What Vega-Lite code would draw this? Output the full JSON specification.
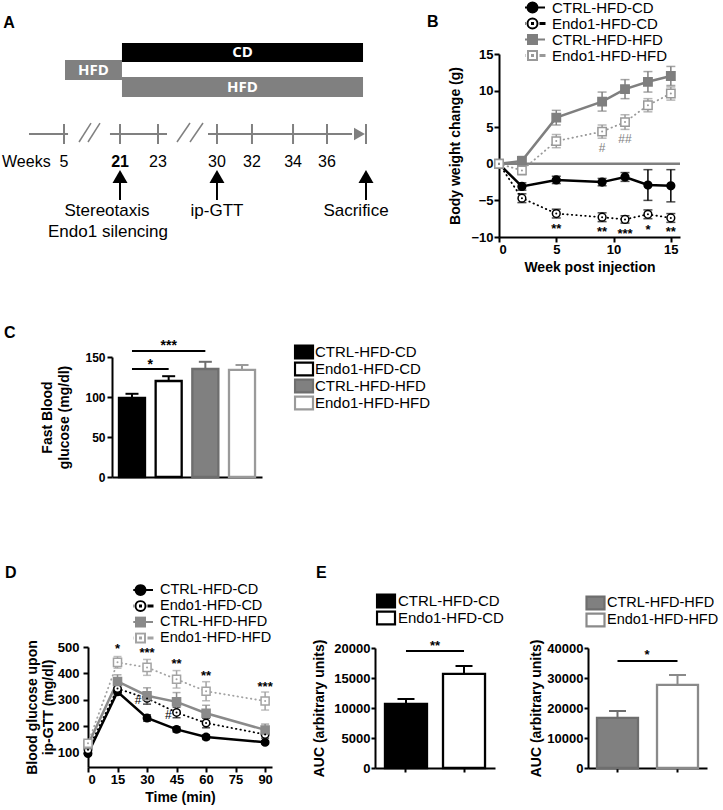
{
"$schema": "https://vega.github.io/schema/vega-lite/v6.json",
"background": "white",
"width": 723,
"height": 810,
"autosize": "none",
"padding": 0,
"config": {
  "view": {"stroke": null},
  "font": "Liberation Sans",
  "axis": {"domainColor": "black", "domainWidth": 2, "tickColor": "black", "tickWidth": 2, "tickSize": 5, "labelColor": "black", "labelFont": "Liberation Sans", "labelFontWeight": "bold", "labelFontSize": 13, "titleFont": "Liberation Sans", "titleFontWeight": "bold", "titleFontSize": 14, "titleColor": "black", "grid": false, "labelPadding": 2},
  "legend": {"labelFont": "Liberation Sans", "labelFontSize": 15, "labelColor": "black", "labelLimit": 300, "rowPadding": 0}
},
"resolve": {
  "scale": {"x": "independent", "y": "independent", "color": "independent", "fill": "independent", "stroke": "independent", "shape": "independent"},
  "axis": {"x": "independent", "y": "independent"},
  "legend": {"color": "independent", "fill": "independent", "stroke": "independent", "shape": "independent"}
},
"datasets": {
  "diet": [
    {"diet": "HFD", "x0": 8.99, "x1": 16.87, "y0": 7.41, "y1": 9.88, "cx": 12.93, "cy": 8.64},
    {"diet": "CD", "x0": 16.87, "x1": 50.21, "y0": 5.31, "y1": 7.65, "cx": 33.54, "cy": 6.48},
    {"diet": "HFD", "x0": 16.87, "x1": 50.21, "y0": 9.51, "y1": 11.98, "cx": 33.54, "cy": 10.74}
  ],
  "tl": [
    {"x0": 4.01, "x1": 9.41, "y0": 16.54, "y1": 16.54},
    {"x0": 15.21, "x1": 23.1, "y0": 16.54, "y1": 16.54},
    {"x0": 28.77, "x1": 48.69, "y0": 16.54, "y1": 16.54},
    {"x0": 8.85, "x1": 8.85, "y0": 15.31, "y1": 17.78},
    {"x0": 16.6, "x1": 16.6, "y0": 15.31, "y1": 17.78},
    {"x0": 21.85, "x1": 21.85, "y0": 15.31, "y1": 17.78},
    {"x0": 30.01, "x1": 30.01, "y0": 15.31, "y1": 17.78},
    {"x0": 34.85, "x1": 34.85, "y0": 15.31, "y1": 17.78},
    {"x0": 40.53, "x1": 40.53, "y0": 15.31, "y1": 17.78},
    {"x0": 45.23, "x1": 45.23, "y0": 15.31, "y1": 17.78},
    {"x0": 50.62, "x1": 50.62, "y0": 15.31, "y1": 17.78}
  ],
  "sl": [
    {"x0": 10.93, "x1": 12.59, "y0": 17.53, "y1": 15.19},
    {"x0": 12.17, "x1": 13.83, "y0": 17.53, "y1": 15.19},
    {"x0": 24.48, "x1": 26.28, "y0": 17.53, "y1": 15.19},
    {"x0": 26.28, "x1": 28.08, "y0": 17.53, "y1": 15.19}
  ],
  "head": [{"x": 49.72, "y": 16.54}],
  "wk": [
    {"t": "Weeks", "x": 0.28, "y": 20.0, "role": "head"},
    {"t": "5", "x": 8.85, "y": 20.0, "role": "n"},
    {"t": "21", "x": 16.6, "y": 20.0, "role": "bold"},
    {"t": "23", "x": 21.85, "y": 20.0, "role": "n"},
    {"t": "30", "x": 30.01, "y": 20.0, "role": "n"},
    {"t": "32", "x": 34.85, "y": 20.0, "role": "n"},
    {"t": "34", "x": 40.53, "y": 20.0, "role": "n"},
    {"t": "36", "x": 45.23, "y": 20.0, "role": "n"}
  ],
  "ev": [
    {"x": 16.6, "ya": 21.79, "y0": 22.59, "y1": 24.69},
    {"x": 30.01, "ya": 21.79, "y0": 22.59, "y1": 24.69},
    {"x": 50.62, "ya": 21.79, "y0": 22.59, "y1": 24.69}
  ],
  "evl": [
    {"x": 14.8, "y": 26.05, "t": "Stereotaxis"},
    {"x": 14.94, "y": 28.6, "t": "Endo1 silencing"},
    {"x": 30.01, "y": 26.05, "t": "ip-GTT"},
    {"x": 49.24, "y": 26.05, "t": "Sacrifice"}
  ],
  "lett": [
    {"x": 0.46, "y": 2.9, "t": "A"},
    {"x": 59.06, "y": 2.72, "t": "B"},
    {"x": 0.55, "y": 41.11, "t": "C"},
    {"x": 0.69, "y": 70.74, "t": "D"},
    {"x": 43.71, "y": 70.74, "t": "E"}
  ],
  "bw": [
    {"series": "CTRL-HFD-CD", "week": 0, "mean": 0, "err": 0},
    {"series": "CTRL-HFD-CD", "week": 2, "mean": -3.1, "err": 0.5},
    {"series": "CTRL-HFD-CD", "week": 5, "mean": -2.2, "err": 0.5},
    {"series": "CTRL-HFD-CD", "week": 9, "mean": -2.5, "err": 0.5},
    {"series": "CTRL-HFD-CD", "week": 11, "mean": -1.8, "err": 0.6},
    {"series": "CTRL-HFD-CD", "week": 13, "mean": -2.9, "err": 2.1},
    {"series": "CTRL-HFD-CD", "week": 15, "mean": -3.0, "err": 2.2},
    {"series": "Endo1-HFD-CD", "week": 0, "mean": 0, "err": 0},
    {"series": "Endo1-HFD-CD", "week": 2, "mean": -4.7, "err": 0.6},
    {"series": "Endo1-HFD-CD", "week": 5, "mean": -6.8, "err": 0.6},
    {"series": "Endo1-HFD-CD", "week": 9, "mean": -7.3, "err": 0.6},
    {"series": "Endo1-HFD-CD", "week": 11, "mean": -7.6, "err": 0.5},
    {"series": "Endo1-HFD-CD", "week": 13, "mean": -6.9, "err": 0.6},
    {"series": "Endo1-HFD-CD", "week": 15, "mean": -7.4, "err": 0.6},
    {"series": "CTRL-HFD-HFD", "week": 0, "mean": 0, "err": 0},
    {"series": "CTRL-HFD-HFD", "week": 2, "mean": 0.4, "err": 0.6},
    {"series": "CTRL-HFD-HFD", "week": 5, "mean": 6.3, "err": 1.0},
    {"series": "CTRL-HFD-HFD", "week": 9, "mean": 8.5, "err": 1.3},
    {"series": "CTRL-HFD-HFD", "week": 11, "mean": 10.2, "err": 1.3},
    {"series": "CTRL-HFD-HFD", "week": 13, "mean": 11.2, "err": 1.4},
    {"series": "CTRL-HFD-HFD", "week": 15, "mean": 12.0, "err": 1.3},
    {"series": "Endo1-HFD-HFD", "week": 0, "mean": 0, "err": 0},
    {"series": "Endo1-HFD-HFD", "week": 2, "mean": -0.9, "err": 0.6},
    {"series": "Endo1-HFD-HFD", "week": 5, "mean": 3.1, "err": 0.9},
    {"series": "Endo1-HFD-HFD", "week": 9, "mean": 4.4, "err": 0.9},
    {"series": "Endo1-HFD-HFD", "week": 11, "mean": 5.7, "err": 1.0},
    {"series": "Endo1-HFD-HFD", "week": 13, "mean": 8.0, "err": 0.9},
    {"series": "Endo1-HFD-HFD", "week": 15, "mean": 9.6, "err": 0.9}
  ],
  "bwzero": [{"week": 0, "week2": 15.8, "mean": 0}],
  "bwsig": [
    {"week": 5, "mean": -8.5, "label": "**", "kind": "star"},
    {"week": 9, "mean": -8.9, "label": "**", "kind": "star"},
    {"week": 11, "mean": -9.2, "label": "***", "kind": "star"},
    {"week": 13, "mean": -8.6, "label": "*", "kind": "star"},
    {"week": 15, "mean": -8.9, "label": "**", "kind": "star"},
    {"week": 9, "mean": 2.2, "label": "#", "kind": "hash"},
    {"week": 11, "mean": 3.4, "label": "##", "kind": "hash"}
  ],
  "fbg": [
    {"series": "CTRL-HFD-CD", "mean": 99, "hi": 104},
    {"series": "Endo1-HFD-CD", "mean": 120, "hi": 126},
    {"series": "CTRL-HFD-HFD", "mean": 135, "hi": 144},
    {"series": "Endo1-HFD-HFD", "mean": 134, "hi": 140}
  ],
  "fbgsig": [
    {"a": "CTRL-HFD-CD", "b": "Endo1-HFD-CD", "mid": "Endo1-HFD-CD", "line": 135, "ty": 143.75, "label": "*", "kind": "near"},
    {"a": "CTRL-HFD-CD", "b": "CTRL-HFD-HFD", "mid": "Endo1-HFD-CD", "line": 157.5, "ty": 167.5, "label": "***", "kind": "far"}
  ],
  "gtt": [
    {"series": "CTRL-HFD-CD", "t": 0, "mean": 98, "err": 6},
    {"series": "CTRL-HFD-CD", "t": 15, "mean": 331, "err": 12},
    {"series": "CTRL-HFD-CD", "t": 30, "mean": 232, "err": 12},
    {"series": "CTRL-HFD-CD", "t": 45, "mean": 189, "err": 10},
    {"series": "CTRL-HFD-CD", "t": 60, "mean": 160, "err": 9},
    {"series": "CTRL-HFD-CD", "t": 90, "mean": 140, "err": 6},
    {"series": "Endo1-HFD-CD", "t": 0, "mean": 112, "err": 8},
    {"series": "Endo1-HFD-CD", "t": 15, "mean": 343, "err": 15},
    {"series": "Endo1-HFD-CD", "t": 30, "mean": 306, "err": 22},
    {"series": "Endo1-HFD-CD", "t": 45, "mean": 253, "err": 20},
    {"series": "Endo1-HFD-CD", "t": 60, "mean": 213, "err": 18},
    {"series": "Endo1-HFD-CD", "t": 90, "mean": 170, "err": 14},
    {"series": "CTRL-HFD-HFD", "t": 0, "mean": 131, "err": 8},
    {"series": "CTRL-HFD-HFD", "t": 15, "mean": 370, "err": 25},
    {"series": "CTRL-HFD-HFD", "t": 30, "mean": 316, "err": 30},
    {"series": "CTRL-HFD-HFD", "t": 45, "mean": 293, "err": 35},
    {"series": "CTRL-HFD-HFD", "t": 60, "mean": 250, "err": 30},
    {"series": "CTRL-HFD-HFD", "t": 90, "mean": 187, "err": 22},
    {"series": "Endo1-HFD-HFD", "t": 0, "mean": 137, "err": 8},
    {"series": "Endo1-HFD-HFD", "t": 15, "mean": 442, "err": 22},
    {"series": "Endo1-HFD-HFD", "t": 30, "mean": 423, "err": 30},
    {"series": "Endo1-HFD-HFD", "t": 45, "mean": 378, "err": 33},
    {"series": "Endo1-HFD-HFD", "t": 60, "mean": 333, "err": 36},
    {"series": "Endo1-HFD-HFD", "t": 90, "mean": 296, "err": 34}
  ],
  "gttsig": [
    {"t": 15, "mean": 502, "label": "*", "kind": "star"},
    {"t": 30, "mean": 490, "label": "***", "kind": "star"},
    {"t": 45, "mean": 446, "label": "**", "kind": "star"},
    {"t": 60, "mean": 400, "label": "**", "kind": "star"},
    {"t": 90, "mean": 360, "label": "***", "kind": "star"},
    {"t": 25.4, "mean": 300, "label": "#", "kind": "hash"},
    {"t": 40.8, "mean": 244, "label": "#", "kind": "hash"}
  ],
  "auc1": [
    {"series": "CTRL-HFD-CD", "mean": 10700, "hi": 11500},
    {"series": "Endo1-HFD-CD", "mean": 15700, "hi": 17000}
  ],
  "auc1sig": [{"a": "CTRL-HFD-CD", "b": "Endo1-HFD-CD", "line": 19500, "ty": 20833, "label": "**"}],
  "auc2": [
    {"series": "CTRL-HFD-HFD", "mean": 16700, "hi": 19000},
    {"series": "Endo1-HFD-HFD", "mean": 27700, "hi": 31000}
  ],
  "auc2sig": [{"a": "CTRL-HFD-HFD", "b": "Endo1-HFD-HFD", "line": 35667, "ty": 38667, "label": "*"}]
},
"layer": [
{
  "layer": [
    {"data": {"name": "diet"}, "mark": {"type": "rect"}, "encoding": {
      "x": {"field": "x0", "type": "quantitative", "scale": {"domain": [0, 100], "range": [0, 723], "nice": false, "zero": false}, "axis": null},
      "x2": {"field": "x1"},
      "y": {"field": "y0", "type": "quantitative", "scale": {"domain": [0, 100], "range": [0, 810], "nice": false, "zero": false}, "axis": null},
      "y2": {"field": "y1"},
      "fill": {"field": "diet", "type": "nominal", "scale": {"domain": ["CD", "HFD"], "range": ["black", "#808080"]}, "legend": null}}},
    {"data": {"name": "diet"}, "mark": {"type": "text", "color": "white", "font": "Open Sans", "fontWeight": "bold", "fontSize": 15, "baseline": "middle"}, "encoding": {
      "x": {"field": "cx", "type": "quantitative", "axis": null},
      "y": {"field": "cy", "type": "quantitative", "axis": null},
      "text": {"field": "diet"}}},
    {"data": {"name": "tl"}, "mark": {"type": "rule", "color": "#808080", "strokeWidth": 2}, "encoding": {
      "x": {"field": "x0", "type": "quantitative", "axis": null}, "x2": {"field": "x1"},
      "y": {"field": "y0", "type": "quantitative", "axis": null}, "y2": {"field": "y1"}}},
    {"data": {"name": "sl"}, "mark": {"type": "rule", "color": "#808080", "strokeWidth": 1.5}, "encoding": {
      "x": {"field": "x0", "type": "quantitative", "axis": null}, "x2": {"field": "x1"},
      "y": {"field": "y0", "type": "quantitative", "axis": null}, "y2": {"field": "y1"}}},
    {"data": {"name": "head"}, "mark": {"type": "point", "shape": "triangle-right", "filled": true, "color": "#808080", "size": 160, "opacity": 1}, "encoding": {
      "x": {"field": "x", "type": "quantitative", "axis": null},
      "y": {"field": "y", "type": "quantitative", "axis": null}}},
    {"data": {"name": "wk"}, "transform": [{"filter": "datum.role==='head'"}], "mark": {"type": "text", "align": "left", "baseline": "middle", "fontSize": 16, "font": "Liberation Sans"}, "encoding": {
      "x": {"field": "x", "type": "quantitative", "axis": null},
      "y": {"field": "y", "type": "quantitative", "axis": null}, "text": {"field": "t"}}},
    {"data": {"name": "wk"}, "transform": [{"filter": "datum.role==='n'"}], "mark": {"type": "text", "align": "center", "baseline": "middle", "fontSize": 16, "font": "Liberation Sans"}, "encoding": {
      "x": {"field": "x", "type": "quantitative", "axis": null},
      "y": {"field": "y", "type": "quantitative", "axis": null}, "text": {"field": "t"}}},
    {"data": {"name": "wk"}, "transform": [{"filter": "datum.role==='bold'"}], "mark": {"type": "text", "align": "center", "baseline": "middle", "fontSize": 16, "fontWeight": "bold", "font": "Liberation Sans"}, "encoding": {
      "x": {"field": "x", "type": "quantitative", "axis": null},
      "y": {"field": "y", "type": "quantitative", "axis": null}, "text": {"field": "t"}}},
    {"data": {"name": "ev"}, "mark": {"type": "rule", "color": "black", "strokeWidth": 2}, "encoding": {
      "x": {"field": "x", "type": "quantitative", "axis": null},
      "y": {"field": "y0", "type": "quantitative", "axis": null}, "y2": {"field": "y1"}}},
    {"data": {"name": "ev"}, "mark": {"type": "point", "shape": "triangle-up", "filled": true, "color": "black", "size": 225, "opacity": 1}, "encoding": {
      "x": {"field": "x", "type": "quantitative", "axis": null},
      "y": {"field": "ya", "type": "quantitative", "axis": null}}},
    {"data": {"name": "evl"}, "mark": {"type": "text", "align": "center", "baseline": "middle", "fontSize": 17, "font": "Liberation Sans"}, "encoding": {
      "x": {"field": "x", "type": "quantitative", "axis": null},
      "y": {"field": "y", "type": "quantitative", "axis": null}, "text": {"field": "t"}}},
    {"data": {"name": "lett"}, "mark": {"type": "text", "align": "left", "baseline": "middle", "fontSize": 16, "fontWeight": "bold", "font": "Liberation Sans"}, "encoding": {
      "x": {"field": "x", "type": "quantitative", "axis": null},
      "y": {"field": "y", "type": "quantitative", "axis": null}, "text": {"field": "t"}}}
  ]
},
{
  "encoding": {
    "x": {"field": "week", "type": "quantitative", "scale": {"domain": [0, 15.8], "range": [499, 680], "nice": false, "zero": false}, "axis": {"orient": "bottom", "offset": -573, "values": [0, 5, 10, 15], "title": "Week post injection", "titlePadding": 4, "labelPadding": 1}},
    "y": {"field": "mean", "type": "quantitative", "scale": {"domain": [-10, 15], "range": [237, 54], "nice": false, "zero": false}, "axis": {"orient": "left", "offset": -499, "values": [-10, -5, 0, 5, 10, 15], "title": "Body weight change (g)", "titlePadding": 8, "labelPadding": 1}}
  },
  "layer": [
    {"data": {"name": "bw"}, "transform": [{"filter": "false"}], "mark": {"type": "point", "opacity": 1, "filled": false}, "encoding": {
      "fill": {"field": "series", "type": "nominal", "scale": {"domain": ["CTRL-HFD-CD", "Endo1-HFD-CD", "CTRL-HFD-HFD", "Endo1-HFD-HFD"], "range": ["black", "white", "#7f7f7f", "white"]},
        "legend": {"title": null, "orient": "none", "legendX": 525, "legendY": 0, "symbolSize": 100, "symbolStrokeWidth": 2, "symbolOpacity": 1, "labelOffset": 12, "labelFontSize": 15, "rowPadding": 0, "clipHeight": 15}},
      "stroke": {"field": "series", "type": "nominal", "scale": {"domain": ["CTRL-HFD-CD", "Endo1-HFD-CD", "CTRL-HFD-HFD", "Endo1-HFD-HFD"], "range": ["black", "black", "#7f7f7f", "#999999"]},
        "legend": {"title": null, "orient": "none", "legendX": 525, "legendY": 0, "symbolSize": 100, "symbolStrokeWidth": 2, "symbolOpacity": 1, "labelOffset": 12, "labelFontSize": 15, "rowPadding": 0, "clipHeight": 15}},
      "shape": {"field": "series", "type": "nominal", "scale": {"domain": ["CTRL-HFD-CD", "Endo1-HFD-CD", "CTRL-HFD-HFD", "Endo1-HFD-HFD"], "range": [
          "M-2.5,0H-1M1,0H2.5M-1,0A1,1,0,1,1,1,0A1,1,0,1,1,-1,0Z",
          "M-2.4,-0.1h0.2v0.2h-0.2ZM-1.8,-0.1h0.2v0.2h-0.2ZM1.6,-0.1h0.2v0.2h-0.2ZM2.2,-0.1h0.2v0.2h-0.2ZM-1,0A1,1,0,1,1,1,0A1,1,0,1,1,-1,0ZM-0.1,-0.1h0.2v0.2h-0.2Z",
          "M-2.5,0H-0.9M0.9,0H2.5M-0.9,-0.9H0.9V0.9H-0.9Z",
          "M-2.4,-0.1h0.2v0.2h-0.2ZM-1.8,-0.1h0.2v0.2h-0.2ZM1.6,-0.1h0.2v0.2h-0.2ZM2.2,-0.1h0.2v0.2h-0.2ZM-0.9,-0.9H0.9V0.9H-0.9ZM-0.1,-0.1h0.2v0.2h-0.2Z"]},
        "legend": {"title": null, "orient": "none", "legendX": 525, "legendY": 0, "symbolSize": 100, "symbolStrokeWidth": 2, "symbolOpacity": 1, "labelOffset": 12, "labelFontSize": 15, "rowPadding": 0, "clipHeight": 15}}}},
    {"data": {"name": "bwzero"}, "mark": {"type": "rule", "color": "#7f7f7f", "strokeWidth": 2.5}, "encoding": {"x2": {"field": "week2"}}},
    {"data": {"name": "bw"}, "mark": {"type": "errorbar", "ticks": {"size": 9}, "thickness": 1.5}, "encoding": {
      "yError": {"field": "err"},
      "color": {"field": "series", "type": "nominal", "scale": {"domain": ["Endo1-HFD-HFD", "CTRL-HFD-HFD", "Endo1-HFD-CD", "CTRL-HFD-CD"], "range": ["#999999", "#7f7f7f", "black", "black"]}, "legend": null}}},
    {"data": {"name": "bw"}, "transform": [{"filter": "indexof(datum.series,'CTRL')===0"}], "mark": {"type": "line", "strokeWidth": 2.5}, "encoding": {
      "color": {"field": "series", "type": "nominal", "legend": null}}},
    {"data": {"name": "bw"}, "transform": [{"filter": "indexof(datum.series,'Endo1')===0"}], "mark": {"type": "line", "strokeWidth": 1.8, "strokeDash": [0.5, 4], "strokeCap": "round"}, "encoding": {
      "color": {"field": "series", "type": "nominal", "legend": null}}},
    {"data": {"name": "bw"}, "transform": [{"filter": "datum.series==='CTRL-HFD-CD' || datum.series==='Endo1-HFD-CD'"}], "mark": {"type": "point", "shape": "circle", "filled": false, "opacity": 1, "strokeWidth": 1.5, "size": 60}, "encoding": {
      "color": {"field": "series", "type": "nominal", "legend": null},
      "fill": {"field": "series", "type": "nominal"}}},
    {"data": {"name": "bw"}, "transform": [{"filter": "datum.series==='CTRL-HFD-HFD' || datum.series==='Endo1-HFD-HFD'"}], "mark": {"type": "point", "shape": "square", "filled": false, "opacity": 1, "strokeWidth": 1.5, "size": 70}, "encoding": {
      "color": {"field": "series", "type": "nominal", "legend": null},
      "fill": {"field": "series", "type": "nominal"}}},
    {"data": {"name": "bw"}, "transform": [{"filter": "indexof(datum.series,'Endo1')===0"}], "mark": {"type": "point", "filled": true, "opacity": 1, "size": 4}, "encoding": {
      "color": {"field": "series", "type": "nominal", "legend": null}}},
    {"data": {"name": "bwsig"}, "transform": [{"filter": "datum.kind==='star'"}], "mark": {"type": "text", "fontSize": 13, "fontWeight": "bold", "baseline": "middle", "dy": 3, "color": "black"}, "encoding": {"text": {"field": "label"}}},
    {"data": {"name": "bwsig"}, "transform": [{"filter": "datum.kind==='hash'"}], "mark": {"type": "text", "fontSize": 12, "baseline": "middle", "color": "#7f7f7f"}, "encoding": {"text": {"field": "label"}}}
  ]
},
{
  "layer": [
    {"data": {"name": "fbg"}, "mark": {"type": "bar", "strokeWidth": 2.3}, "encoding": {
      "x": {"field": "series", "type": "nominal", "sort": null, "scale": {"domain": ["CTRL-HFD-CD", "Endo1-HFD-CD", "CTRL-HFD-HFD", "Endo1-HFD-HFD"], "range": [112, 262], "paddingInner": 0.29, "paddingOuter": 0.19}, "axis": {"orient": "bottom", "offset": -333, "title": null, "labels": false, "ticks": false}},
      "y": {"field": "mean", "type": "quantitative", "scale": {"domain": [0, 150], "range": [477, 357], "nice": false}, "axis": {"orient": "left", "offset": -112, "values": [0, 50, 100, 150], "title": ["Fast Blood", "glucose (mg/dl)"], "titleLineHeight": 17, "labelFontSize": 12, "titlePadding": 13, "labelPadding": 2}},
      "fill": {"field": "series", "type": "nominal", "scale": {"domain": ["CTRL-HFD-CD", "Endo1-HFD-CD", "CTRL-HFD-HFD", "Endo1-HFD-HFD"], "range": ["black", "white", "#808080", "white"]}, "legend": {
        "title": null, "orient": "none", "legendX": 293.5, "legendY": 343.5, "symbolSize": 324, "labelOffset": 0.5, "rowPadding": 0, "clipHeight": 17,
        "encode": {"symbols": {"update": {
          "shape": {"value": "M-1,-0.7H1V0.7H-1Z"},
          "strokeWidth": {"value": 2.2}, "opacity": {"value": 1}}}}}},
      "stroke": {"field": "series", "type": "nominal", "scale": {"domain": ["CTRL-HFD-CD", "Endo1-HFD-CD", "CTRL-HFD-HFD", "Endo1-HFD-HFD"], "range": ["black", "black", "#6e6e6e", "#9a9a9a"]}, "legend": null}}},
    {"data": {"name": "fbg"}, "mark": {"type": "rule", "strokeWidth": 2}, "encoding": {
      "x": {"field": "series", "type": "nominal", "sort": null},
      "y": {"field": "mean", "type": "quantitative"}, "y2": {"field": "hi"},
      "color": {"field": "series", "type": "nominal", "scale": {"domain": ["CTRL-HFD-CD", "Endo1-HFD-CD", "CTRL-HFD-HFD", "Endo1-HFD-HFD"], "range": ["black", "black", "#6e6e6e", "#9a9a9a"]}, "legend": null}}},
    {"data": {"name": "fbg"}, "mark": {"type": "tick", "thickness": 2, "size": 13, "opacity": 1}, "encoding": {
      "x": {"field": "series", "type": "nominal", "sort": null},
      "y": {"field": "hi", "type": "quantitative"},
      "color": {"field": "series", "type": "nominal", "legend": null}}},
    {"data": {"name": "fbgsig"}, "mark": {"type": "rule", "strokeWidth": 2, "color": "black"}, "encoding": {
      "x": {"field": "a", "type": "nominal"}, "x2": {"field": "b"},
      "y": {"field": "line", "type": "quantitative"}}},
    {"data": {"name": "fbgsig"}, "transform": [{"filter": "datum.kind==='near'"}], "mark": {"type": "text", "fontSize": 14, "fontWeight": "bold", "baseline": "middle", "dy": 3, "dx": -18.5}, "encoding": {
      "x": {"field": "mid", "type": "nominal"},
      "y": {"field": "ty", "type": "quantitative"}, "text": {"field": "label"}}},
    {"data": {"name": "fbgsig"}, "transform": [{"filter": "datum.kind==='far'"}], "mark": {"type": "text", "fontSize": 14, "fontWeight": "bold", "baseline": "middle", "dy": 3}, "encoding": {
      "x": {"field": "mid", "type": "nominal"},
      "y": {"field": "ty", "type": "quantitative"}, "text": {"field": "label"}}}
  ]
},
{
  "encoding": {
    "x": {"field": "t", "type": "quantitative", "scale": {"domain": [0, 93.5], "range": [88, 272], "nice": false, "zero": false}, "axis": {"orient": "bottom", "offset": -43, "values": [0, 15, 30, 45, 60, 75, 90], "title": "Time (min)", "titlePadding": 4, "labelPadding": 1}},
    "y": {"field": "mean", "type": "quantitative", "scale": {"domain": [47, 500], "range": [767, 647], "nice": false, "zero": false}, "axis": {"orient": "left", "offset": -88, "values": [100, 200, 300, 400, 500], "title": ["Blood glucose upon", "ip-GTT (mg/dl)"], "titleLineHeight": 16, "titlePadding": 2, "labelPadding": 4}}
  },
  "layer": [
    {"data": {"name": "gtt"}, "transform": [{"filter": "false"}], "mark": {"type": "point", "opacity": 1, "filled": false}, "encoding": {
      "fill": {"field": "series", "type": "nominal", "scale": {"domain": ["CTRL-HFD-CD", "Endo1-HFD-CD", "CTRL-HFD-HFD", "Endo1-HFD-HFD"], "range": ["black", "white", "#8a8a8a", "white"]},
        "legend": {"title": null, "orient": "none", "legendX": 133.25, "legendY": 584.15, "symbolSize": 100, "symbolStrokeWidth": 2, "symbolOpacity": 1, "labelOffset": 12.25, "labelFontSize": 14.5, "rowPadding": 0, "clipHeight": 11.7}},
      "stroke": {"field": "series", "type": "nominal", "scale": {"domain": ["CTRL-HFD-CD", "Endo1-HFD-CD", "CTRL-HFD-HFD", "Endo1-HFD-HFD"], "range": ["black", "black", "#8a8a8a", "#a3a3a3"]},
        "legend": {"title": null, "orient": "none", "legendX": 133.25, "legendY": 584.15, "symbolSize": 100, "symbolStrokeWidth": 2, "symbolOpacity": 1, "labelOffset": 12.25, "labelFontSize": 14.5, "rowPadding": 0, "clipHeight": 11.7}},
      "shape": {"field": "series", "type": "nominal", "scale": {"domain": ["CTRL-HFD-CD", "Endo1-HFD-CD", "CTRL-HFD-HFD", "Endo1-HFD-HFD"], "range": [
          "M-2.5,0H-1M1,0H2.5M-1,0A1,1,0,1,1,1,0A1,1,0,1,1,-1,0Z",
          "M-2.4,-0.1h0.2v0.2h-0.2ZM-1.8,-0.1h0.2v0.2h-0.2ZM1.6,-0.1h0.2v0.2h-0.2ZM2.2,-0.1h0.2v0.2h-0.2ZM-1,0A1,1,0,1,1,1,0A1,1,0,1,1,-1,0ZM-0.1,-0.1h0.2v0.2h-0.2Z",
          "M-2.5,0H-0.9M0.9,0H2.5M-0.9,-0.9H0.9V0.9H-0.9Z",
          "M-2.4,-0.1h0.2v0.2h-0.2ZM-1.8,-0.1h0.2v0.2h-0.2ZM1.6,-0.1h0.2v0.2h-0.2ZM2.2,-0.1h0.2v0.2h-0.2ZM-0.9,-0.9H0.9V0.9H-0.9ZM-0.1,-0.1h0.2v0.2h-0.2Z"]},
        "legend": {"title": null, "orient": "none", "legendX": 133.25, "legendY": 584.15, "symbolSize": 100, "symbolStrokeWidth": 2, "symbolOpacity": 1, "labelOffset": 12.25, "labelFontSize": 14.5, "rowPadding": 0, "clipHeight": 11.7}}}},
    {"data": {"name": "gtt"}, "mark": {"type": "errorbar", "ticks": {"size": 8}, "thickness": 1.5}, "encoding": {
      "yError": {"field": "err"},
      "color": {"field": "series", "type": "nominal", "scale": {"domain": ["Endo1-HFD-HFD", "CTRL-HFD-HFD", "Endo1-HFD-CD", "CTRL-HFD-CD"], "range": ["#a3a3a3", "#8a8a8a", "black", "black"]}, "legend": null}}},
    {"data": {"name": "gtt"}, "transform": [{"filter": "indexof(datum.series,'CTRL')===0"}], "mark": {"type": "line", "strokeWidth": 2.5}, "encoding": {
      "color": {"field": "series", "type": "nominal", "legend": null}}},
    {"data": {"name": "gtt"}, "transform": [{"filter": "indexof(datum.series,'Endo1')===0"}], "mark": {"type": "line", "strokeWidth": 1.8, "strokeDash": [0.5, 4], "strokeCap": "round"}, "encoding": {
      "color": {"field": "series", "type": "nominal", "legend": null}}},
    {"data": {"name": "gtt"}, "transform": [{"filter": "datum.series==='CTRL-HFD-CD' || datum.series==='Endo1-HFD-CD'"}], "mark": {"type": "point", "shape": "circle", "filled": false, "opacity": 1, "strokeWidth": 1.5, "size": 55}, "encoding": {
      "color": {"field": "series", "type": "nominal", "legend": null},
      "fill": {"field": "series", "type": "nominal"}}},
    {"data": {"name": "gtt"}, "transform": [{"filter": "datum.series==='CTRL-HFD-HFD' || datum.series==='Endo1-HFD-HFD'"}], "mark": {"type": "point", "shape": "square", "filled": false, "opacity": 1, "strokeWidth": 1.5, "size": 65}, "encoding": {
      "color": {"field": "series", "type": "nominal", "legend": null},
      "fill": {"field": "series", "type": "nominal"}}},
    {"data": {"name": "gtt"}, "transform": [{"filter": "indexof(datum.series,'Endo1')===0"}], "mark": {"type": "point", "filled": true, "opacity": 1, "size": 4}, "encoding": {
      "color": {"field": "series", "type": "nominal", "legend": null}}},
    {"data": {"name": "gttsig"}, "transform": [{"filter": "datum.kind==='star'"}], "mark": {"type": "text", "fontSize": 13, "fontWeight": "bold", "baseline": "middle", "dy": 3, "color": "black"}, "encoding": {"text": {"field": "label"}}},
    {"data": {"name": "gttsig"}, "transform": [{"filter": "datum.kind==='hash'"}], "mark": {"type": "text", "fontSize": 12, "baseline": "middle", "color": "black"}, "encoding": {"text": {"field": "label"}}}
  ]
},
{
  "layer": [
    {"data": {"name": "auc1"}, "mark": {"type": "bar", "strokeWidth": 2.3}, "encoding": {
      "x": {"field": "series", "type": "nominal", "sort": null, "scale": {"domain": ["CTRL-HFD-CD", "Endo1-HFD-CD"], "range": [375, 495], "paddingInner": 0.276, "paddingOuter": 0.172}, "axis": {"orient": "bottom", "offset": -42, "title": null, "labels": false, "tickSize": 4}},
      "y": {"field": "mean", "type": "quantitative", "scale": {"domain": [0, 20000], "range": [768, 648], "nice": false}, "axis": {"orient": "left", "offset": -375, "values": [0, 5000, 10000, 15000, 20000], "format": "d", "title": "AUC (arbitrary units)", "tickSize": 4, "labelPadding": 1, "titlePadding": 7}},
      "fill": {"field": "series", "type": "nominal", "scale": {"domain": ["CTRL-HFD-CD", "Endo1-HFD-CD"], "range": ["black", "white"]}, "legend": {
        "title": null, "orient": "none", "legendX": 375.5, "legendY": 592.5, "symbolSize": 324, "labelOffset": 1.5, "rowPadding": 0, "clipHeight": 17,
        "encode": {"symbols": {"update": {"shape": {"value": "M-1,-0.7H1V0.7H-1Z"}, "stroke": {"value": "black"}, "strokeWidth": {"value": 2.2}, "opacity": {"value": 1}}}}}},
      "stroke": {"field": "series", "type": "nominal", "scale": {"domain": ["CTRL-HFD-CD", "Endo1-HFD-CD"], "range": ["black", "black"]}, "legend": null}}},
    {"data": {"name": "auc1"}, "mark": {"type": "rule", "strokeWidth": 2, "color": "black"}, "encoding": {
      "x": {"field": "series", "type": "nominal", "sort": null},
      "y": {"field": "mean", "type": "quantitative"}, "y2": {"field": "hi"}}},
    {"data": {"name": "auc1"}, "mark": {"type": "tick", "thickness": 2, "size": 17, "color": "black", "opacity": 1}, "encoding": {
      "x": {"field": "series", "type": "nominal", "sort": null},
      "y": {"field": "hi", "type": "quantitative"}}},
    {"data": {"name": "auc1sig"}, "mark": {"type": "rule", "strokeWidth": 2, "color": "black"}, "encoding": {
      "x": {"field": "a", "type": "nominal"}, "x2": {"field": "b"},
      "y": {"field": "line", "type": "quantitative"}}},
    {"data": {"name": "auc1sig"}, "mark": {"type": "text", "fontSize": 13, "fontWeight": "bold", "baseline": "middle", "dy": 3, "dx": 29}, "encoding": {
      "x": {"field": "a", "type": "nominal"},
      "y": {"field": "ty", "type": "quantitative"}, "text": {"field": "label"}}}
  ]
},
{
  "layer": [
    {"data": {"name": "auc2"}, "mark": {"type": "bar", "strokeWidth": 2.3}, "encoding": {
      "x": {"field": "series", "type": "nominal", "sort": null, "scale": {"domain": ["CTRL-HFD-HFD", "Endo1-HFD-HFD"], "range": [588, 707], "paddingInner": 0.317, "paddingOuter": 0.15}, "axis": {"orient": "bottom", "offset": -42, "title": null, "labels": false, "tickSize": 4}},
      "y": {"field": "mean", "type": "quantitative", "scale": {"domain": [0, 40000], "range": [768, 648], "nice": false}, "axis": {"orient": "left", "offset": -588, "values": [0, 10000, 20000, 30000, 40000], "format": "d", "title": "AUC (arbitrary units)", "tickSize": 4, "labelPadding": 1, "titlePadding": 3}},
      "fill": {"field": "series", "type": "nominal", "scale": {"domain": ["CTRL-HFD-HFD", "Endo1-HFD-HFD"], "range": ["#808080", "white"]}, "legend": {
        "title": null, "orient": "none", "legendX": 585, "legendY": 594.5, "symbolSize": 324, "labelOffset": 1, "labelFontSize": 14.5, "rowPadding": 0, "clipHeight": 17,
        "encode": {"symbols": {"update": {"shape": {"value": "M-1,-0.7H1V0.7H-1Z"}, "strokeWidth": {"value": 2.2}, "opacity": {"value": 1}}}}}},
      "stroke": {"field": "series", "type": "nominal", "scale": {"domain": ["CTRL-HFD-HFD", "Endo1-HFD-HFD"], "range": ["#6e6e6e", "#8a8a8a"]}, "legend": null}}},
    {"data": {"name": "auc2"}, "mark": {"type": "rule", "strokeWidth": 2}, "encoding": {
      "x": {"field": "series", "type": "nominal", "sort": null},
      "y": {"field": "mean", "type": "quantitative"}, "y2": {"field": "hi"},
      "color": {"field": "series", "type": "nominal", "scale": {"domain": ["CTRL-HFD-HFD", "Endo1-HFD-HFD"], "range": ["#6e6e6e", "#8a8a8a"]}, "legend": null}}},
    {"data": {"name": "auc2"}, "mark": {"type": "tick", "thickness": 2, "size": 17, "opacity": 1}, "encoding": {
      "x": {"field": "series", "type": "nominal", "sort": null},
      "y": {"field": "hi", "type": "quantitative"},
      "color": {"field": "series", "type": "nominal", "legend": null}}},
    {"data": {"name": "auc2sig"}, "mark": {"type": "rule", "strokeWidth": 2, "color": "black"}, "encoding": {
      "x": {"field": "a", "type": "nominal"}, "x2": {"field": "b"},
      "y": {"field": "line", "type": "quantitative"}}},
    {"data": {"name": "auc2sig"}, "mark": {"type": "text", "fontSize": 13, "fontWeight": "bold", "baseline": "middle", "dy": 3, "dx": 29.5}, "encoding": {
      "x": {"field": "a", "type": "nominal"},
      "y": {"field": "ty", "type": "quantitative"}, "text": {"field": "label"}}}
  ]
}
]
}
